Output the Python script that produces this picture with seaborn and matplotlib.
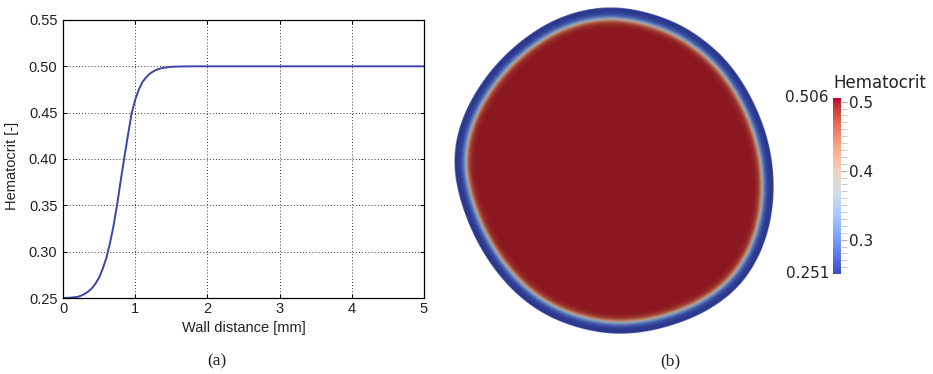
import numpy as np
import pandas as pd
import matplotlib
matplotlib.use("Agg")
import matplotlib.pyplot as plt
from matplotlib.path import Path
from matplotlib.colors import Normalize
import matplotlib.cm as cm
from matplotlib.ticker import MultipleLocator
import seaborn as sns

# Hematocrit profile as a function of distance from the vessel wall
wall_distance = [0.0, 0.1, 0.2, 0.25, 0.3, 0.35, 0.4, 0.45, 0.5, 0.55, 0.6,
                 0.65, 0.7, 0.75, 0.8, 0.85, 0.9, 0.95, 1.0, 1.05, 1.1, 1.15,
                 1.2, 1.25, 1.3, 1.35, 1.4, 1.5, 1.6, 1.8, 2.0, 5.0]
hematocrit = [0.2500, 0.2503, 0.2512, 0.2525, 0.2545, 0.2570, 0.2605, 0.2655,
              0.2720, 0.2815, 0.2930, 0.3090, 0.3280, 0.3510, 0.3770, 0.4020,
              0.4260, 0.4490, 0.4640, 0.4750, 0.4830, 0.4880, 0.4920, 0.4945,
              0.4965, 0.4977, 0.4985, 0.4995, 0.4998, 0.5000, 0.5000, 0.5000]

x_ticks = [0, 1, 2, 3, 4, 5]
y_ticks = [0.25, 0.30, 0.35, 0.40, 0.45, 0.50, 0.55]

# Vessel cross-section outline [mm]
wall_x = [-0.43, 1.43, 5.0, 8.14, 10.0, 11.21, 11.57, 11.5, 10.71, 9.07, 6.21,
          2.64, -0.21, -1.64, -4.5, -6.86, -8.57, -10.0, -10.93, -11.5, -11.5,
          -11.14, -10.0, -8.07, -5.21, -2.71]
wall_y = [11.79, 11.64, 10.5, 8.07, 5.21, 2.14, -0.36, -3.07, -5.93, -8.57,
          -10.5, -11.64, -11.86, -11.57, -10.71, -9.07, -7.14, -4.79, -2.36,
          0.0, 0.93, 3.07, 5.5, 8.07, 10.36, 11.43]

cbar_range = (0.251, 0.506)
cbar_ticks = [0.3, 0.4, 0.5]

W, H = 933, 374
fig = plt.figure(figsize=(W / 100, H / 100), dpi=100)
sns.set_style("ticks")
plt.rcParams["font.family"] = ["Liberation Sans", "DejaVu Sans"]

# ---------------- (a) profile ----------------
ax = fig.add_axes([63 / W, 1 - 298 / H, (424 - 63) / W, (298 - 20) / H])
df = pd.DataFrame({"Wall distance [mm]": wall_distance, "Hematocrit [-]": hematocrit})
sns.lineplot(data=df, x="Wall distance [mm]", y="Hematocrit [-]", ax=ax,
             color="#3a44aa", linewidth=1.4)
ax.set_xlim(0, 5)
ax.set_ylim(0.25, 0.55)
ax.set_xticks(x_ticks)
ax.set_xticklabels([str(t) for t in x_ticks])
ax.set_yticks(y_ticks)
ax.set_yticklabels([f"{t:.2f}" for t in y_ticks])
ax.grid(True, color="#333333", linestyle=(0, (1, 2.2)), linewidth=0.7)
for s in ax.spines.values():
    s.set_visible(True)
    s.set_color("black")
    s.set_linewidth(0.9)
ax.tick_params(direction="in", length=3, width=0.7, top=True, right=True,
               labelsize=10.5, colors="black", pad=3)
ax.tick_params(axis="y", pad=4)
ax.set_xlabel("Wall distance [mm]", fontsize=10.5, color="#222222")
ax.set_ylabel("Hematocrit [-]", fontsize=10.5, color="#222222")
ax.xaxis.set_label_coords(0.5, -0.083)
ax.yaxis.set_label_coords(-0.122, 0.475)
for lab in ax.get_xticklabels() + ax.get_yticklabels():
    lab.set_color("#222222")

# ---------------- (b) cross-section ----------------
px_per_mm = 14.0
cx, cy = 613, 170
axb = fig.add_axes([440 / W, 1 - 345 / H, (786 - 440) / W, 345 / H])
xmin, xmax = (440 - cx) / px_per_mm, (786 - cx) / px_per_mm
ymin, ymax = (cy - 345) / px_per_mm, (cy - 0) / px_per_mm
axb.axis("off")

# field grid extends past the axes so the filter has room at the borders
margin = 5.0
gxmin, gxmax, gymin, gymax = xmin - margin, xmax + margin, ymin - margin, ymax + margin
nx, ny = 620, 620
gx = np.linspace(gxmin, gxmax, nx)
gy = np.linspace(gymin, gymax, ny)
GX, GY = np.meshgrid(gx, gy)
pts = np.column_stack([GX.ravel(), GY.ravel()])

vx = np.array(wall_x + wall_x[:1])
vy = np.array(wall_y + wall_y[:1])
dist = np.full(pts.shape[0], np.inf)
for i in range(len(vx) - 1):
    x0, y0, x1, y1 = vx[i], vy[i], vx[i + 1], vy[i + 1]
    dx, dy = x1 - x0, y1 - y0
    t = ((pts[:, 0] - x0) * dx + (pts[:, 1] - y0) * dy) / (dx * dx + dy * dy)
    t = np.clip(t, 0, 1)
    d = np.hypot(pts[:, 0] - (x0 + t * dx), pts[:, 1] - (y0 + t * dy))
    dist = np.minimum(dist, d)
inside = Path(np.column_stack([vx, vy])).contains_points(pts)
signed = np.where(inside, dist, -dist).reshape(ny, nx)

# round off the polygon corners of the wall with a separable Gaussian filter
step = gx[1] - gx[0]
sigma = 1.5 / step
r = int(3 * sigma)
k = np.exp(-0.5 * (np.arange(-r, r + 1) / sigma) ** 2)
k /= k.sum()
padded = np.pad(signed, r, mode="edge")
padded = np.apply_along_axis(lambda v: np.convolve(v, k, mode="same"), 1, padded)
padded = np.apply_along_axis(lambda v: np.convolve(v, k, mode="same"), 0, padded)
smooth = padded[r:-r, r:-r]

field = np.interp(np.maximum(smooth, 0), wall_distance, hematocrit)
norm = Normalize(*cbar_range)
cmap = matplotlib.colormaps["coolwarm"]
rgba = cmap(norm(field))
rgba[..., :3] *= 0.74  # surface shading
rgba[..., 3] = np.clip(smooth / step + 0.5, 0, 1)
axb.imshow(rgba, extent=(gxmin, gxmax, gymin, gymax), origin="lower",
           interpolation="antialiased", aspect="auto")
axb.set_xlim(xmin, xmax)
axb.set_ylim(ymin, ymax)

# colour bar
cax = fig.add_axes([833 / W, 1 - 273.5 / H, 8 / W, 176 / H])
sm = cm.ScalarMappable(norm=norm, cmap=cmap)
cb = fig.colorbar(sm, cax=cax, orientation="vertical")
cb.outline.set_visible(False)
cb.set_ticks(cbar_ticks)
cb.ax.yaxis.set_minor_locator(MultipleLocator(0.01))
cb.ax.tick_params(which="major", length=4, width=0.8, color="#b0b0b0",
                  labelsize=11, pad=1.5, labelcolor="#222222")
cb.ax.tick_params(which="minor", length=4, width=0.6, color="#c0c0c0")
for lab in cb.ax.get_yticklabels():
    lab.set_family("DejaVu Sans")
fig.text(833 / W, 1 - 83 / H, "Hematocrit", fontsize=12, family="DejaVu Sans",
         color="#222222", ha="left", va="center")
fig.text(829 / W, 1 - 98 / H, f"{cbar_range[1]:.3f}", fontsize=11,
         family="DejaVu Sans", color="#222222", ha="right", va="center")
fig.text(829 / W, 1 - 274 / H, f"{cbar_range[0]:.3f}", fontsize=11,
         family="DejaVu Sans", color="#222222", ha="right", va="center")

# captions
fig.text(217 / W, 1 - 361 / H, "(a)", fontsize=12.5, family="Liberation Serif",
         ha="center", va="center", color="#222222")
fig.text(670 / W, 1 - 361 / H, "(b)", fontsize=12.5, family="Liberation Serif",
         ha="center", va="center", color="#222222")

fig.savefig("out.png", dpi=100, facecolor="white")
